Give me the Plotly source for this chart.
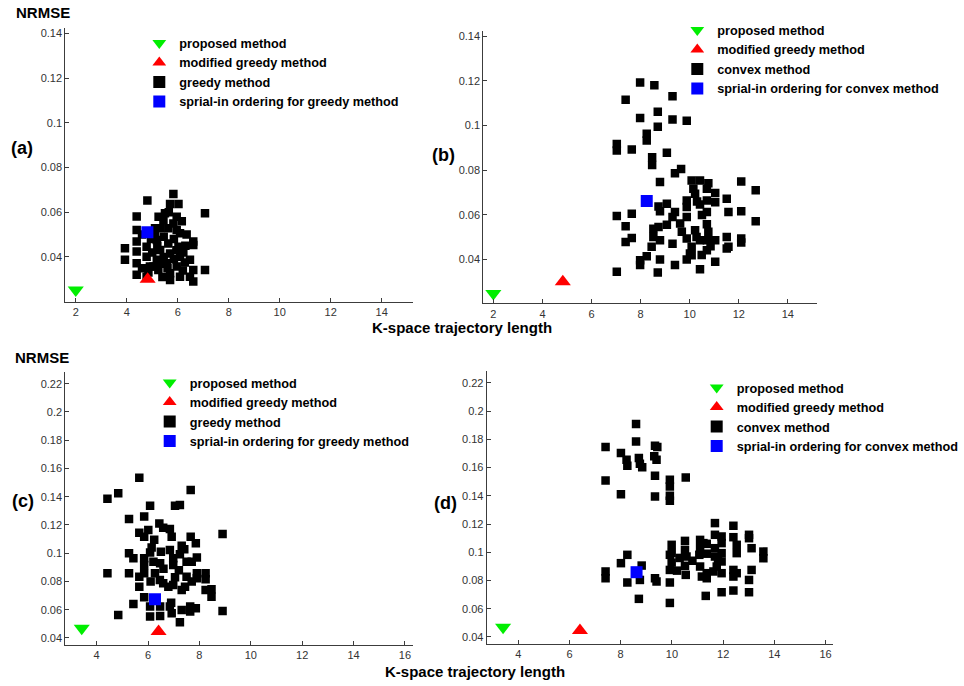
import plotly.graph_objects as go

FONT = "Arial, Liberation Sans, sans-serif"

# ---------------- data ----------------
# Panel (a): greedy method
a_greedy_x = [5.83, 4.81, 5.70, 6.03, 7.07, 4.39, 5.50, 5.44, 5.96, 5.83, 6.16, 5.11, 5.31, 4.39, 5.63,
              5.96, 6.09, 6.61, 6.61, 3.93, 3.93, 4.39, 4.39, 4.39, 4.39, 4.78, 4.78, 4.91, 4.78, 5.18,
              5.31, 5.18, 5.24, 5.63, 5.70, 5.57, 5.70, 6.03, 6.09, 5.96, 6.09, 6.48, 6.22, 6.28, 6.61,
              7.07, 6.48, 6.61, 5.70, 5.05, 4.95, 5.00, 5.45, 5.45, 5.40, 5.85, 5.85, 5.20, 4.60, 4.60,
              6.30, 6.20, 5.60, 5.25, 5.65, 6.35, 5.10, 4.85, 5.35, 5.95]
a_greedy_y = [0.0682, 0.0652, 0.0637, 0.0637, 0.0595, 0.0581, 0.0595, 0.0565, 0.0580, 0.0550, 0.0560,
              0.0528, 0.0528, 0.0520, 0.0528, 0.0520, 0.0506, 0.0469, 0.0454, 0.0439, 0.0387, 0.0469,
              0.0424, 0.0372, 0.0320, 0.0446, 0.0401, 0.0357, 0.0312, 0.0476, 0.0431, 0.0387, 0.0342,
              0.0460, 0.0416, 0.0372, 0.0327, 0.0446, 0.0401, 0.0357, 0.0312, 0.0387, 0.0420, 0.0375,
              0.0342, 0.0342, 0.0312, 0.0290, 0.0297, 0.0357, 0.0480, 0.0420, 0.0490, 0.0400, 0.0310,
              0.0480, 0.0390, 0.0450, 0.0500, 0.0350, 0.0450, 0.0340, 0.0350, 0.0580, 0.0600, 0.0500,
              0.0500, 0.0330, 0.0370, 0.0430]
a_spiral_x, a_spiral_y = [4.81], [0.0510]
a_modified_x, a_modified_y = [4.82], [0.0300]
a_proposed_x, a_proposed_y = [2.0], [0.0252]

# Panel (b): convex method
b_convex_x = [7.98, 8.56, 7.39, 9.30, 8.70, 7.98, 9.30, 9.88, 8.70, 8.25, 8.25, 7.03, 7.03, 7.64, 8.47,
              8.47, 9.07, 9.65, 9.40, 8.79, 10.08, 10.42, 10.76, 10.15, 10.22, 10.70, 11.04, 11.04,
              11.51, 11.58, 12.10, 12.69, 12.10, 12.69, 9.88, 9.88, 10.42, 10.70, 10.70, 8.73, 8.79,
              9.07, 9.40, 7.03, 7.64, 7.39, 7.64, 7.39, 8.52, 8.73, 9.07, 8.52, 8.79, 8.45, 9.30, 9.61,
              9.68, 9.88, 9.88, 10.08, 10.01, 10.22, 10.28, 10.42, 10.70, 10.76, 10.70, 10.70, 10.49,
              11.04, 11.51, 11.58, 11.51, 12.10, 12.10, 7.98, 7.98, 8.25, 8.79, 9.40, 9.88, 10.08,
              10.42, 11.04, 7.03, 8.70, 10.50, 10.30, 9.30, 10.85]
b_convex_y = [0.1193, 0.1181, 0.1116, 0.1131, 0.1062, 0.1034, 0.1027, 0.1022, 0.0995, 0.0963, 0.0933,
              0.0918, 0.0888, 0.0893, 0.0858, 0.0824, 0.0878, 0.0806, 0.0787, 0.0747, 0.0754, 0.0754,
              0.0742, 0.0717, 0.0695, 0.0717, 0.0698, 0.0657, 0.0672, 0.0613, 0.0750, 0.0710, 0.0616,
              0.0571, 0.0665, 0.0635, 0.0647, 0.0665, 0.0613, 0.0638, 0.0616, 0.0650, 0.0613, 0.0595,
              0.0605, 0.0549, 0.0497, 0.0479, 0.0538, 0.0546, 0.0556, 0.0501, 0.0486, 0.0457, 0.0471,
              0.0561, 0.0524, 0.0590, 0.0494, 0.0457, 0.0427, 0.0531, 0.0501, 0.0486, 0.0558, 0.0524,
              0.0486, 0.0442, 0.0420, 0.0486, 0.0501, 0.0457, 0.0449, 0.0494, 0.0476, 0.0397, 0.0375,
              0.0415, 0.0400, 0.0375, 0.0400, 0.0419, 0.0357, 0.0390, 0.0345, 0.0342, 0.0600, 0.0660,
              0.0590, 0.0460]
b_spiral_x, b_spiral_y = [8.25], [0.0662]
b_modified_x, b_modified_y = [4.83], [0.0300]
b_proposed_x, b_proposed_y = [2.0], [0.0248]

# Panel (c): greedy method
c_greedy_x = [5.66, 7.66, 4.42, 4.84, 6.08, 7.05, 7.24, 5.85, 5.26, 8.90, 6.44, 6.59, 6.85, 6.92, 5.66,
              5.85, 6.01, 6.24, 6.14, 6.08, 7.66, 7.86, 7.31, 7.41, 7.24, 5.26, 5.43, 5.85, 5.85, 6.50,
              6.85, 6.98, 6.98, 6.21, 6.47, 7.50, 7.70, 7.90, 4.42, 5.26, 5.66, 5.66, 5.85, 6.27, 6.46,
              6.59, 6.79, 6.98, 7.05, 7.50, 7.44, 7.31, 7.70, 7.90, 7.90, 8.24, 8.24, 8.24, 8.47, 8.47,
              5.85, 5.43, 6.08, 6.47, 6.08, 6.47, 6.85, 6.92, 7.31, 7.64, 7.86, 7.64, 7.24, 4.84, 8.90,
              6.60, 6.10, 7.20, 6.20, 6.90]
c_greedy_y = [0.1534, 0.1447, 0.1386, 0.1424, 0.1336, 0.1336, 0.1341, 0.1259, 0.1242, 0.1136, 0.1211,
              0.1181, 0.1171, 0.1117, 0.1145, 0.1117, 0.1164, 0.1096, 0.1040, 0.1005, 0.1117, 0.1070,
              0.1052, 0.1028, 0.0993, 0.1000, 0.0964, 0.0964, 0.0917, 0.1011, 0.1023, 0.0964, 0.0917,
              0.0940, 0.0928, 0.0940, 0.0940, 0.0970, 0.0858, 0.0858, 0.0834, 0.0763, 0.0858, 0.0858,
              0.0810, 0.0787, 0.0763, 0.0775, 0.0829, 0.0834, 0.0763, 0.0740, 0.0800, 0.0822, 0.0858,
              0.0858, 0.0815, 0.0740, 0.0744, 0.0692, 0.0688, 0.0641, 0.0622, 0.0622, 0.0551, 0.0556,
              0.0622, 0.0575, 0.0598, 0.0587, 0.0610, 0.0622, 0.0511, 0.0563, 0.0591, 0.0890, 0.0800,
              0.0880, 0.0680, 0.0650]
c_spiral_x, c_spiral_y = [6.27], [0.0674]
c_modified_x, c_modified_y = [6.41], [0.0445]
c_proposed_x, c_proposed_y = [3.42], [0.0468]

# Panel (d): convex method
d_convex_x = [8.60, 8.60, 7.41, 9.34, 9.43, 8.01, 8.23, 8.26, 8.71, 8.75, 8.84, 9.31, 9.40, 9.34, 10.54,
              9.92, 9.92, 7.41, 8.01, 9.34, 9.92, 9.92,
              11.68, 12.40, 13.01, 13.01, 12.40, 11.10, 11.23, 11.68, 11.94, 11.94, 12.53, 13.11, 13.57,
              13.57, 9.99, 9.99, 9.99, 10.51, 10.51, 10.57, 10.51, 10.54, 9.92, 9.92, 11.10, 11.07,
              11.10, 11.17, 11.36, 11.36, 11.36, 11.36, 11.68, 11.68, 11.75, 11.62, 11.94, 11.94, 11.94,
              12.40, 12.53, 12.40, 12.53, 13.11, 13.01, 13.01, 12.40, 11.94, 11.32, 9.92, 9.92, 8.71,
              8.26, 8.01, 8.26, 7.41, 7.41, 8.82, 8.75, 9.34, 9.40, 10.30, 10.80, 11.80, 10.20]
d_convex_y = [0.1909, 0.1786, 0.1746, 0.1755, 0.1746, 0.1703, 0.1656, 0.1613, 0.1668, 0.1628, 0.1602,
              0.1680, 0.1656, 0.1542, 0.1531, 0.1514, 0.1467, 0.1509, 0.1412, 0.1396, 0.1400, 0.1365,
              0.1207, 0.1188, 0.1124, 0.1100, 0.1107, 0.1088, 0.1065, 0.1124, 0.1112, 0.1065, 0.1053,
              0.1029, 0.1005, 0.0958, 0.1053, 0.0994, 0.0927, 0.1081, 0.1017, 0.0970, 0.0904, 0.0840,
              0.0982, 0.0875, 0.1029, 0.0982, 0.0899, 0.0828, 0.1060, 0.0990, 0.0852, 0.0816, 0.1029,
              0.0970, 0.0899, 0.0864, 0.0994, 0.0935, 0.0852, 0.0875, 0.0852, 0.0828, 0.0994, 0.0875,
              0.0804, 0.0717, 0.0729, 0.0717, 0.0691, 0.0641, 0.0786, 0.0670, 0.0786, 0.0923, 0.0982,
              0.0864, 0.0816, 0.0906, 0.0804, 0.0816, 0.0793, 0.0960, 0.0940, 0.0950, 0.0870]
d_spiral_x, d_spiral_y = [8.62], [0.0859]
d_modified_x, d_modified_y = [6.41], [0.0445]
d_proposed_x, d_proposed_y = [3.41], [0.0469]

# tick labels
top_xticks = [2, 4, 6, 8, 10, 12, 14]
top_yticks = [0.04, 0.06, 0.08, 0.10, 0.12, 0.14]
top_yticktext = ["0.04", "0.06", "0.08", "0.1", "0.12", "0.14"]
bot_xticks = [4, 6, 8, 10, 12, 14, 16]
bot_yticks = [0.04, 0.06, 0.08, 0.10, 0.12, 0.14, 0.16, 0.18, 0.20, 0.22]
bot_yticktext = ["0.04", "0.06", "0.08", "0.1", "0.12", "0.14", "0.16", "0.18", "0.2", "0.22"]

# legend names
name_proposed = "proposed method"
name_modified = "modified greedy method"
name_greedy = "greedy method"
name_convex = "convex method"
name_spiral_greedy = "sprial-in ordering for greedy method"
name_spiral_convex = "sprial-in ordering for convex method"

# ---------------- figure ----------------
fig = go.Figure()

panels = [
    ("x", "y", "legend", a_greedy_x, a_greedy_y, name_greedy, a_spiral_x, a_spiral_y, name_spiral_greedy,
     a_modified_x, a_modified_y, a_proposed_x, a_proposed_y),
    ("x2", "y2", "legend2", b_convex_x, b_convex_y, name_convex, b_spiral_x, b_spiral_y, name_spiral_convex,
     b_modified_x, b_modified_y, b_proposed_x, b_proposed_y),
    ("x3", "y3", "legend3", c_greedy_x, c_greedy_y, name_greedy, c_spiral_x, c_spiral_y, name_spiral_greedy,
     c_modified_x, c_modified_y, c_proposed_x, c_proposed_y),
    ("x4", "y4", "legend4", d_convex_x, d_convex_y, name_convex, d_spiral_x, d_spiral_y, name_spiral_convex,
     d_modified_x, d_modified_y, d_proposed_x, d_proposed_y),
]

for (xa, ya, lg, bx, by, bname, sx, sy, sname, mx, my, px, py) in panels:
    fig.add_trace(go.Scatter(x=bx, y=by, mode="markers", name=bname, xaxis=xa, yaxis=ya, legend=lg,
                             legendrank=3, marker=dict(symbol="square", size=8.5, color="#000000",
                                                       line=dict(width=0))))
    fig.add_trace(go.Scatter(x=sx, y=sy, mode="markers", name=sname, xaxis=xa, yaxis=ya, legend=lg,
                             legendrank=4, marker=dict(symbol="square", size=12, color="#0000ff",
                                                       line=dict(width=0))))
    fig.add_trace(go.Scatter(x=mx, y=my, mode="markers", name=name_modified, xaxis=xa, yaxis=ya, legend=lg,
                             legendrank=2, marker=dict(symbol="triangle-up", size=14, color="#ff0000",
                                                       line=dict(width=0))))
    fig.add_trace(go.Scatter(x=px, y=py, mode="markers", name=name_proposed, xaxis=xa, yaxis=ya, legend=lg,
                             legendrank=1, marker=dict(symbol="triangle-down", size=14, color="#00ee00",
                                                       line=dict(width=0))))

W, H = 964, 686
AXC = "#3c3c3c"


def xd(p0, p1):
    return [p0 / W, p1 / W]


def yd(top, bottom):
    return [1 - bottom / H, 1 - top / H]


def axis(domain, rng, tv, tt, anchor):
    return dict(domain=domain, range=rng, tickvals=tv, ticktext=tt, ticks="inside", ticklen=4,
                tickcolor=AXC, showline=True, linecolor=AXC, linewidth=1, showgrid=False,
                zeroline=False, anchor=anchor, fixedrange=True,
                tickfont=dict(family=FONT, size=11, color="#333333"))


top_xtt = [str(t) for t in top_xticks]
bot_xtt = [str(t) for t in bot_xticks]

layout = dict(
    width=W, height=H, margin=dict(l=0, r=0, t=0, b=0),
    paper_bgcolor="white", plot_bgcolor="white",
    xaxis=axis(xd(65.3, 413), [1.59, 15.23], top_xticks, top_xtt, "y"),
    yaxis=axis(yd(27.7, 301.7), [0.02, 0.1425], top_yticks, top_yticktext, "x"),
    xaxis2=axis(xd(483.3, 817.3), [1.59, 15.2], top_xticks, top_xtt, "y2"),
    yaxis2=axis(yd(30.7, 303.3), [0.0204, 0.1425], top_yticks, top_yticktext, "x2"),
    xaxis3=axis(xd(65.3, 412.7), [2.78, 16.3], bot_xticks, bot_xtt, "y3"),
    yaxis3=axis(yd(371.7, 645), [0.035, 0.2285], bot_yticks, bot_yticktext, "x3"),
    xaxis4=axis(xd(486.7, 833.3), [2.77, 16.3], bot_xticks, bot_xtt, "y4"),
    yaxis4=axis(yd(371, 644), [0.035, 0.2285], bot_yticks, bot_yticktext, "x4"),
)


def leg(sym_x, row1_y):
    return dict(x=(sym_x - 21) / W, y=1 - (row1_y - 15.5) / H, xanchor="left", yanchor="top",
                xref="paper", yref="paper", bgcolor="rgba(0,0,0,0)", borderwidth=0,
                itemsizing="constant", tracegroupgap=0, traceorder="normal",
                font=dict(family=FONT, size=12.7, color="#000000", weight="bold"))


layout["legend"] = leg(160.3, 43.7)
layout["legend2"] = leg(698.3, 30.7)
layout["legend3"] = leg(170.7, 383.3)
layout["legend4"] = leg(717.7, 388.3)

fig.update_layout(**layout)

bold = dict(family=FONT, color="#000000", weight="bold")
annots = [
    ("NRMSE", 42.5, 12.5, 15),
    ("NRMSE", 42, 357, 15),
    ("K-space trajectory length", 462, 327, 15),
    ("K-space trajectory length", 475, 671.5, 15),
    ("(a)", 21.5, 148, 18),
    ("(b)", 443.3, 155, 18),
    ("(c)", 23.3, 501, 18),
    ("(d)", 445, 502.5, 18),
]
for txt, cx, cy, fs in annots:
    fig.add_annotation(text=txt, x=cx / W, y=1 - cy / H, xref="paper", yref="paper",
                       xanchor="center", yanchor="middle", showarrow=False,
                       font=dict(size=fs, **bold))

fig.write_html("out.html", config={"displayModeBar": False},
               post_script="document.body.style.margin='0';document.body.style.overflow='hidden';")
